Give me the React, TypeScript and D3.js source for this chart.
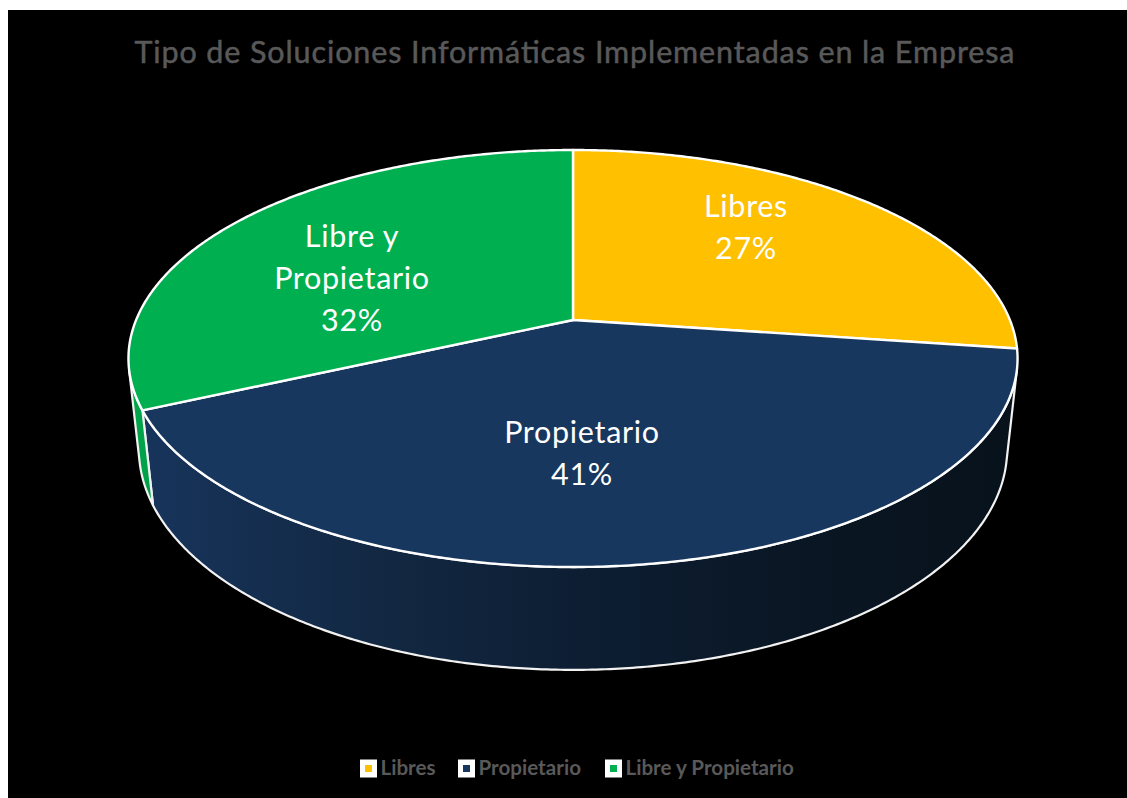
import React from "react";
import * as d3 from "d3";

const categories = ["Libres", "Propietario", "Libre y Propietario"];
const values = [27.2, 41, 31.8];
const percentLabels = ["27%", "41%", "32%"];
const colors = ["#FFC000", "#17375E", "#00B050"];
const title = "Tipo de Soluciones Informáticas Implementadas en la Empresa";

const W = 1127, H = 798;
const cx = 573, cy = 320;
const A = 436.9, B = 201.4, P = 0.1847, D = 92, Q = 0.0233;

type Pt = [number, number];
const project = (theta: number, h: number): Pt => {
  const u = Math.sin(theta), v = -Math.cos(theta);
  const s = 1 / (1 - P * v + Q * h);
  return [cx + A * u * s, cy + (B * v + D * h) * s];
};
const FONT = "Lato, Carlito, 'Open Sans', sans-serif";
const line = d3.line<Pt>();
const STEP = Math.PI / 360;
const anglesBetween = (a: number, b: number) => {
  const out = d3.range(a, b, STEP);
  out.push(b);
  return out;
};
const facing = (a: number, b: number) => {
  const t0 = project(a, 0), t1 = project(b, 0), b0 = project(a, 1);
  const cross = (t1[0] - t0[0]) * (b0[1] - t0[1]) - (t1[1] - t0[1]) * (b0[0] - t0[0]);
  return cross < 0;
};
const wallStops: { x: number; c: string }[][] = [
  [{ x: 0, c: "#c79500" }, { x: 1, c: "#c79500" }],
  [{ x: 0, c: "#17345b" }, { x: 0.29, c: "#122741" }, { x: 0.5, c: "#0d1e33" }, { x: 0.76, c: "#0a1623" }, { x: 1, c: "#07121b" }],
  [{ x: 0, c: "#00a84c" }, { x: 1, c: "#009e48" }],
];

const labelLines: string[][] = [["Libres"], ["Propietario"], ["Libre y", "Propietario"]];
const labelAnchor: Pt[] = [[746, 217], [582, 443], [352, 247]];
const legendBox = [360, 458, 605];

export default function App() {
  const arcs = d3.pie<number>().sort(null).startAngle(0).endAngle(2 * Math.PI)(values);
  return (
    <svg width={W} height={H} style={{ position: "fixed", left: 0, top: 0, background: "#fff" }}>
      <defs>
        {wallStops.map((stops, i) => (
          <linearGradient key={i} id={`wall${i}`} x1="0" x2="1" y1="0" y2="0">
            {stops.map((s) => <stop key={s.x} offset={s.x} stopColor={s.c} />)}
          </linearGradient>
        ))}
      </defs>
      <rect x={8} y={10} width={W - 8} height={H - 10} fill="#000" />
      <text x={574.5} y={63} textAnchor="middle" fontFamily={FONT} fontSize={30.5} fill="#595959" stroke="#595959" strokeWidth={0.5} textLength={880} lengthAdjust="spacing">{title}</text>

      {arcs.map((a, i) => {
        const angs = anglesBetween(a.startAngle, a.endAngle);
        const visible: number[] = [];
        for (let k = 0; k < angs.length - 1; k++) {
          if (!facing(angs[k], angs[k + 1])) continue;
          if (!visible.length) visible.push(angs[k]);
          visible.push(angs[k + 1]);
        }
        if (!visible.length) return null;
        const outline = [...visible.map((t) => project(t, 0)), ...visible.slice().reverse().map((t) => project(t, 1))];
        return <path key={i} d={line(outline) + "Z"} fill={`url(#wall${i})`} stroke="#F2F2F2" strokeWidth={2.2} strokeLinejoin="round" />;
      })}

      {arcs.map((a, i) => {
        const pts: Pt[] = [[cx, cy], ...anglesBetween(a.startAngle, a.endAngle).map((t) => project(t, 0))];
        return <path key={i} d={line(pts) + "Z"} fill={colors[i]} stroke="#fff" strokeWidth={2.4} strokeLinejoin="round" />;
      })}

      {arcs.map((_, i) => {
        const rows = [...labelLines[i], percentLabels[i]];
        return (
          <text key={i} textAnchor="middle" fontFamily={FONT} fontSize={30.5} letterSpacing={0.7} fill="#fff">
            {rows.map((r, k) => (
              <tspan key={k} x={labelAnchor[i][0]} y={labelAnchor[i][1] + k * 42}>{r}</tspan>
            ))}
          </text>
        );
      })}

      {categories.map((c, i) => (
        <g key={c}>
          <rect x={legendBox[i]} y={759.5} width={17} height={18} fill="#fff" />
          <rect x={legendBox[i] + 5} y={765} width={7} height={7} fill={colors[i]} />
          <text x={legendBox[i] + 20.5} y={775} fontFamily={FONT} fontWeight={700} fontSize={20.6} fill="#595959">{c}</text>
        </g>
      ))}
    </svg>
  );
}
